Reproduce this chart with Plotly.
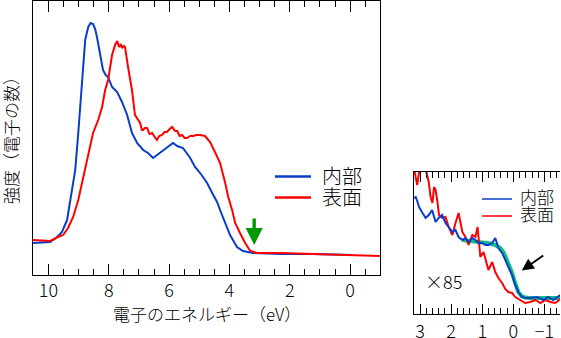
import plotly.graph_objects as go

# ---------------- data: main panel (energy in eV, intensity in arb. units) ----------------
inner_E = [10.51, 9.94, 9.71, 9.55, 9.38, 9.21, 9.11, 9.01, 8.88, 8.78, 8.68, 8.60, 8.52, 8.45,
           8.39, 8.29, 8.19, 8.10, 8.02, 7.89, 7.72, 7.56, 7.39, 7.23, 7.06, 6.86, 6.70, 6.53,
           6.30, 6.07, 5.87, 5.73, 5.54, 5.30, 5.14, 4.97, 4.74, 4.57, 4.41, 4.31, 4.14, 3.98,
           3.75, 3.55, 3.22, 2.32, 1.23, 0.10, -0.07]
inner_I = [32, 33, 38, 43, 55, 85, 105, 142, 198, 235, 248, 252, 251, 246,
           238, 222, 205, 200, 198, 188, 183, 173, 160, 142, 132, 125, 122, 117,
           122, 127, 132, 129, 127, 117, 108, 102, 92, 82, 73, 65, 52, 40,
           28, 24, 22, 21, 21, 20, 20]

surface_E = [10.51, 9.94, 9.68, 9.51, 9.35, 9.18, 9.01, 8.85, 8.68, 8.52, 8.35, 8.22, 8.12,
             8.02, 7.89, 7.79, 7.72, 7.66, 7.60, 7.56, 7.50, 7.46, 7.36, 7.23, 7.13, 6.96,
             6.90, 6.86, 6.80, 6.73, 6.65, 6.56, 6.48, 6.40, 6.33, 6.23, 6.15, 6.07, 5.98,
             5.90, 5.80, 5.73, 5.65, 5.57, 5.48, 5.40, 5.30, 5.20, 5.10, 4.97, 4.81, 4.64,
             4.48, 4.31, 4.14, 4.04, 3.91, 3.81, 3.65, 3.48, 3.31, 3.08, 2.32, 1.23, 0.33, -0.99]
surface_I = [35, 34, 38, 40, 47, 58, 75, 98, 122, 142, 155, 168, 185,
             195, 220, 230, 234, 228, 231, 227, 229, 228, 208, 185, 160, 152,
             145, 145, 147, 147, 141, 142, 138, 135, 139, 140, 143, 143, 146,
             148, 144, 144, 139, 140, 137, 137, 139, 139, 140, 140, 139, 133,
             123, 112, 92, 78, 65, 52, 42, 32, 24, 22, 22, 21, 20, 19]

# ---------------- data: inset (x85) ----------------
inner2_E = [3.19, 3.14, 3.08, 3.03, 2.92, 2.82, 2.72, 2.61, 2.50, 2.40, 2.29, 2.18, 2.08,
            1.96, 1.86, 1.76, 1.64, 1.54, 1.44, 1.32, 1.22, 1.12, 1.00, 0.90, 0.80, 0.68,
            0.58, 0.48, 0.36, 0.26, 0.16, 0.04, -0.06, -0.16, -0.28, -0.38, -0.54, -0.76,
            -0.96, -1.12, -1.28, -1.40, -1.51]
inner2_I = [116, 117, 112, 107, 101, 96, 99, 104, 92, 96, 99, 91, 87,
            82, 84, 77, 74, 76, 72, 76, 74, 71, 71, 69, 69, 71,
            76, 66, 61, 54, 47, 39, 29, 22, 17, 16, 16, 17,
            14, 17, 14, 17, 19]

surface2_E = [3.19, 3.09, 3.01, 2.92, 2.82, 2.72, 2.66, 2.60, 2.55, 2.50, 2.44, 2.39, 2.29,
              2.18, 2.08, 1.96, 1.86, 1.76, 1.64, 1.54, 1.44, 1.32, 1.22, 1.15, 1.06, 0.96,
              0.87, 0.80, 0.68, 0.58, 0.48, 0.36, 0.26, 0.16, 0.04, -0.06, -0.22, -0.38,
              -0.54, -0.71, -0.87, -1.03, -1.19, -1.35, -1.51]
surface2_I = [145, 129, 146, 148, 145, 132, 117, 111, 127, 124, 112, 99, 96,
              97, 87, 79, 91, 101, 82, 77, 69, 79, 77, 87, 57, 62,
              52, 44, 52, 42, 36, 31, 25, 22, 21, 17, 14, 11,
              12, 14, 11, 14, 12, 11, 15]

fit_E = [1.64, 1.38, 1.06, 0.74, 0.58, 0.42, 0.30, 0.20, 0.13, 0.04, -0.06, -0.16, -0.26,
         -0.38, -0.54, -1.03, -1.51]
fit_I = [74, 73, 72, 70.5, 69, 66, 61, 54, 48, 41, 31, 22, 18,
         16.5, 16, 16, 16]

legend_labels = ["内部", "表面"]
BLUE = "#0a3ccc"
RED = "#ff0000"
GREEN_FIT = "#10c080"
GREEN_ARROW = "#009a00"
FONT = "Noto Sans CJK JP Light, Noto Sans CJK JP"
WEIGHT = 300

W, H = 561, 338
def px(x):
    return x / W
def py(y):
    return 1 - y / H

fig = go.Figure()
fig.add_trace(go.Scatter(x=inner_E, y=inner_I, mode="lines", line=dict(color=BLUE, width=2),
                         xaxis="x", yaxis="y", showlegend=False))
fig.add_trace(go.Scatter(x=surface_E, y=surface_I, mode="lines", line=dict(color=RED, width=2),
                         xaxis="x", yaxis="y", showlegend=False))
fig.add_trace(go.Scatter(x=fit_E, y=fit_I, mode="lines", line=dict(color=GREEN_FIT, width=4),
                         xaxis="x2", yaxis="y2", showlegend=False))
fig.add_trace(go.Scatter(x=surface2_E, y=surface2_I, mode="lines", line=dict(color=RED, width=2),
                         xaxis="x2", yaxis="y2", showlegend=False))
fig.add_trace(go.Scatter(x=inner2_E, y=inner2_I, mode="lines", line=dict(color=BLUE, width=2),
                         xaxis="x2", yaxis="y2", showlegend=False))

axis_common = dict(showgrid=False, zeroline=False, showline=True, linecolor="black", linewidth=1,
                   automargin=False)
tickfont = dict(family=FONT, size=18, color="black", weight=WEIGHT)

fig.update_layout(
    template="none",
    width=W, height=H, margin=dict(l=0, r=0, t=0, b=0, pad=0),
    paper_bgcolor="white", plot_bgcolor="white",
    font=dict(family=FONT, color="black", weight=WEIGHT),
    xaxis=dict(domain=[px(33), px(380)], range=[10.51, -0.99], anchor="y",
               ticks="inside", ticklen=11, tickcolor="black", tick0=0, dtick=2,
               minor=dict(dtick=0.5, tick0=0, ticks="inside", ticklen=6, tickcolor="black"),
               mirror="allticks", tickfont=tickfont, ticklabelstandoff=-1, **axis_common),
    yaxis=dict(domain=[py(275), py(1)], range=[0, 274], anchor="x",
               ticks="", showticklabels=False, mirror=True, **axis_common),
    xaxis2=dict(domain=[px(413.5), px(560)], range=[3.21, -1.5], anchor="y2",
                ticks="inside", ticklen=10, tickcolor="black", tick0=0, dtick=1,
                minor=dict(dtick=0.2, tick0=0, ticks="inside", ticklen=6, tickcolor="black"),
                mirror="allticks", tickfont=tickfont, ticklabelstandoff=1, **axis_common),
    yaxis2=dict(domain=[py(314), py(172)], range=[0, 142], anchor="x2",
                ticks="", showticklabels=False, mirror=False, **axis_common),
)

ann = []
# axis titles
ann.append(dict(text="電子のエネルギー（eV）", x=px(207), y=py(313), xref="paper", yref="paper",
                showarrow=False, font=dict(family=FONT, size=17, weight=WEIGHT),
                xanchor="center", yanchor="middle"))
ann.append(dict(text="強度（電子の数）", x=px(10), y=py(136), xref="paper", yref="paper",
                showarrow=False, textangle=-90, font=dict(family=FONT, size=17, weight=WEIGHT),
                xanchor="center", yanchor="middle"))
# main legend
for i, (lab, col) in enumerate(zip(legend_labels, [BLUE, RED])):
    yy = 176.5 + i * 21
    fig.add_shape(type="line", xref="paper", yref="paper", x0=px(275), x1=px(311),
                  y0=py(yy), y1=py(yy), line=dict(color=col, width=2.5))
    ann.append(dict(text=lab, x=px(320), y=py(yy - 1.5), xref="paper", yref="paper", showarrow=False,
                    font=dict(family=FONT, size=20, weight=WEIGHT), xanchor="left", yanchor="middle"))
# inset legend
for i, (lab, col) in enumerate(zip(legend_labels, [BLUE, RED])):
    yy = 199 + i * 17
    fig.add_shape(type="line", xref="paper", yref="paper", x0=px(482), x1=px(512),
                  y0=py(yy), y1=py(yy), line=dict(color=col, width=1.5))
    ann.append(dict(text=lab, x=px(518), y=py(yy - 3), xref="paper", yref="paper", showarrow=False,
                    font=dict(family=FONT, size=17, weight=WEIGHT), xanchor="left", yanchor="middle"))
# x85 label
ann.append(dict(text="×85", x=px(443), y=py(281), xref="paper", yref="paper", showarrow=False,
                font=dict(family=FONT, size=18, weight=WEIGHT), xanchor="center", yanchor="middle"))
# green arrow (main panel)
ann.append(dict(text="", x=3.18, y=30, xref="x", yref="y", ax=0, ay=-28, showarrow=True,
                arrowhead=2, arrowwidth=3.4, arrowsize=1, arrowcolor=GREEN_ARROW))
# black arrow (inset)
ann.append(dict(text="", x=-0.27, y=43.5, xref="x2", yref="y2", ax=23, ay=-16, showarrow=True,
                arrowhead=2, arrowwidth=2, arrowsize=1.2, arrowcolor="black"))
fig.update_layout(annotations=ann)

fig.write_html("out.html")
